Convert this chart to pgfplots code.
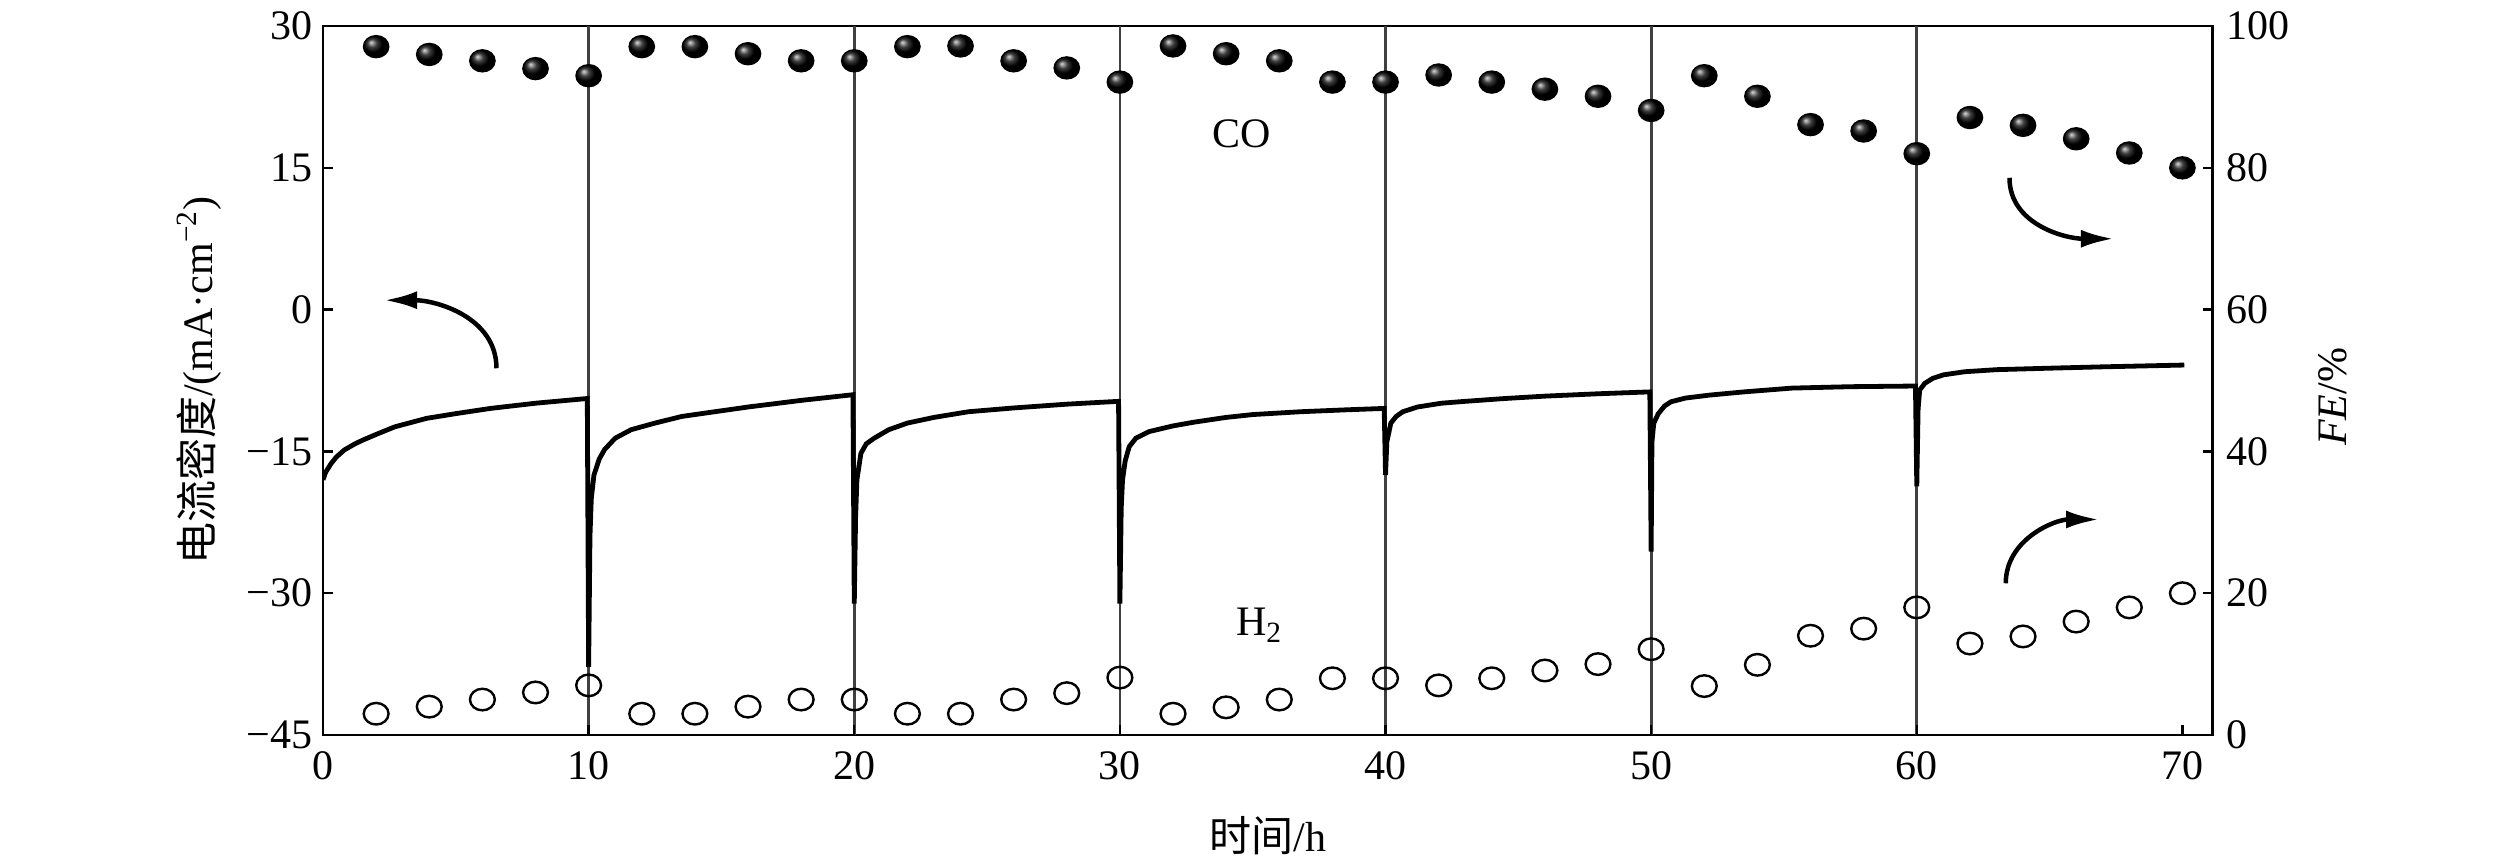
\documentclass[border=0pt]{standalone}
\usepackage{pgfplots}
\pgfplotsset{compat=1.18}
\usepackage{fontspec}
\setmainfont{Liberation Serif}
\newfontfamily\cjk{Noto Sans CJK SC}
\usetikzlibrary{arrows.meta}
\newcommand{\fs}{\fontsize{14}{16}\selectfont}
\begin{document}
\begin{tikzpicture}
\path[use as bounding box] (-107.67pt,-43pt) rectangle (732.33pt,245pt);
\pgfplotsset{
  common/.style={
    at={(0,0)}, anchor=south west,
    scale only axis, width=629.8pt, height=236.3pt,
    xmin=0, xmax=71.13,
    tick align=inside, major tick length=3.3pt,
    axis line style={line width=0.8pt},
    every tick/.style={line width=0.8pt, black},
    tick label style={font=\fs},
    label style={font=\fs},
  }
}
\begin{axis}[common,
  ymin=-45, ymax=30,
  ytick={-45,-30,-15,0,15,30},
  yticklabels={−45,−30,−15,0,15,30},
  xtick={0,10,20,30,40,50,60,70},
  xticklabels={0,10,20,30,40,50,60,70},
  xticklabel style={yshift=-2pt},
  extra x ticks={10,20,30,40,50,60},
  extra x tick labels={},
  extra x tick style={grid=major, grid style={line width=0.9pt, black!75}},
  ytick pos=left, xtick pos=bottom,
  xlabel={{\cjk 时间}/h},
  xlabel style={at={(axis description cs:0.5,-0.142)}, anchor=center},
  ylabel={{\cjk 电流密度}/(mA·cm\textsuperscript{−2})},
  ylabel style={at={(axis description cs:-0.0656,0.5)}, anchor=center},
]
\addplot[line width=1.6pt, black] table {
0 -18.0
0.1 -17.2
0.3 -16.3
0.5 -15.6
0.8 -14.85
1.2 -14.2
1.5 -13.8
2.0 -13.2
2.7 -12.4
3.9 -11.5
5.0 -11.0
6.3 -10.45
8.0 -9.9
9.95 -9.4
10.0 -37.8
10.05 -24
10.1 -20.0
10.2 -17.5
10.4 -15.8
10.6 -14.8
11.0 -13.6
11.6 -12.7
12.5 -12.0
13.5 -11.3
15.0 -10.7
16.0 -10.3
18.0 -9.6
19.95 -9.0
20.0 -31.1
20.05 -22
20.1 -18.0
20.25 -15.2
20.45 -14.2
20.75 -13.6
21.3 -12.7
22.0 -12.0
23.0 -11.4
24.3 -10.8
26.0 -10.4
28.0 -10.0
29.95 -9.7
30.0 -31.1
30.05 -21
30.1 -18.0
30.2 -16.0
30.35 -14.5
30.6 -13.6
31.1 -12.9
32.0 -12.3
32.8 -11.9
34.0 -11.4
35.0 -11.1
36.8 -10.8
38.5 -10.6
39.95 -10.45
40.0 -17.5
40.05 -14.0
40.2 -12.0
40.4 -11.3
40.65 -10.8
41.2 -10.3
42.1 -9.9
43.0 -9.7
44.5 -9.4
46.0 -9.15
48.0 -8.9
49.95 -8.7
50.0 -25.6
50.03 -14
50.1 -12.0
50.27 -11.0
50.5 -10.2
50.75 -9.74
51.3 -9.35
52.2 -9.04
53.5 -8.7
55.3 -8.3
57.5 -8.15
59.95 -8.08
60.0 -18.7
60.05 -10.5
60.11 -8.5
60.3 -7.8
60.6 -7.27
61.0 -6.9
61.8 -6.57
63.0 -6.35
64.9 -6.2
67.0 -6.05
70.07 -5.86
};
\draw[line width=1.5pt, -{Latex[length=11pt,width=6pt]}] (axis cs:6.53,-6.2) to[out=90,in=0] (axis cs:2.3,1.0);
\node[font=\fs, anchor=base, inner sep=0pt] at (axis cs:34.6,17.2) {CO};
\node[font=\fs, anchor=base, inner sep=0pt] at (axis cs:35.25,-34.5) {H\textsubscript{2}};
\end{axis}
\begin{axis}[common,
  ymin=0, ymax=100,
  hide x axis,
  axis y line*=right,
  ytick={0,20,40,60,80,100},
  yticklabels={0,20,40,60,80,100},
  yticklabel style={xshift=1pt},
  ylabel={\textit{FE}/\%},
  ylabel style={at={(axis description cs:1.0638,0.477)}, anchor=center, rotate=0},
]
\addplot[only marks, mark=o, mark size=3.6pt, mark options={xscale=1.15, line width=0.8pt, fill=white, black}] table {
2 3.0
4 4.0
6 5.0
8 6.0
10 7.0
12 3.0
14 3.0
16 4.0
18 5.0
20 5.0
22 3.0
24 3.0
26 5.0
28 5.9
30 8.1
32 3.0
34 3.9
36 5.0
38 8.0
40 8.0
42 7.0
44 8.0
46 9.1
48 10.0
50 12.1
52 6.9
54 9.9
56 14.0
58 15.0
60 18.0
62 12.9
64 13.9
66 16.0
68 18.0
70 20.0
};
\addplot[only marks, mark=ball, ball color=black, mark size=3.7pt, mark options={xscale=1.15}] table {
2 97.1
4 96.0
6 95.1
8 94.0
10 93.0
12 97.1
14 97.1
16 96.1
18 95.1
20 95.1
22 97.1
24 97.2
26 95.1
28 94.1
30 92.1
32 97.2
34 96.1
36 95.1
38 92.1
40 92.1
42 93.1
44 92.1
46 91.1
48 90.1
50 88.1
52 93.0
54 90.1
56 86.1
58 85.2
60 82.0
62 87.1
64 86.0
66 84.1
68 82.1
70 80.0
};
\draw[line width=1.5pt, -{Latex[length=11pt,width=6pt]}] (axis cs:63.49,78.6) to[out=-90,in=180] (axis cs:67.42,70.0);
\draw[line width=1.5pt, -{Latex[length=11pt,width=6pt]}] (axis cs:63.35,21.4) to[out=90,in=180] (axis cs:66.86,30.4);
\end{axis}
\end{tikzpicture}
\end{document}
